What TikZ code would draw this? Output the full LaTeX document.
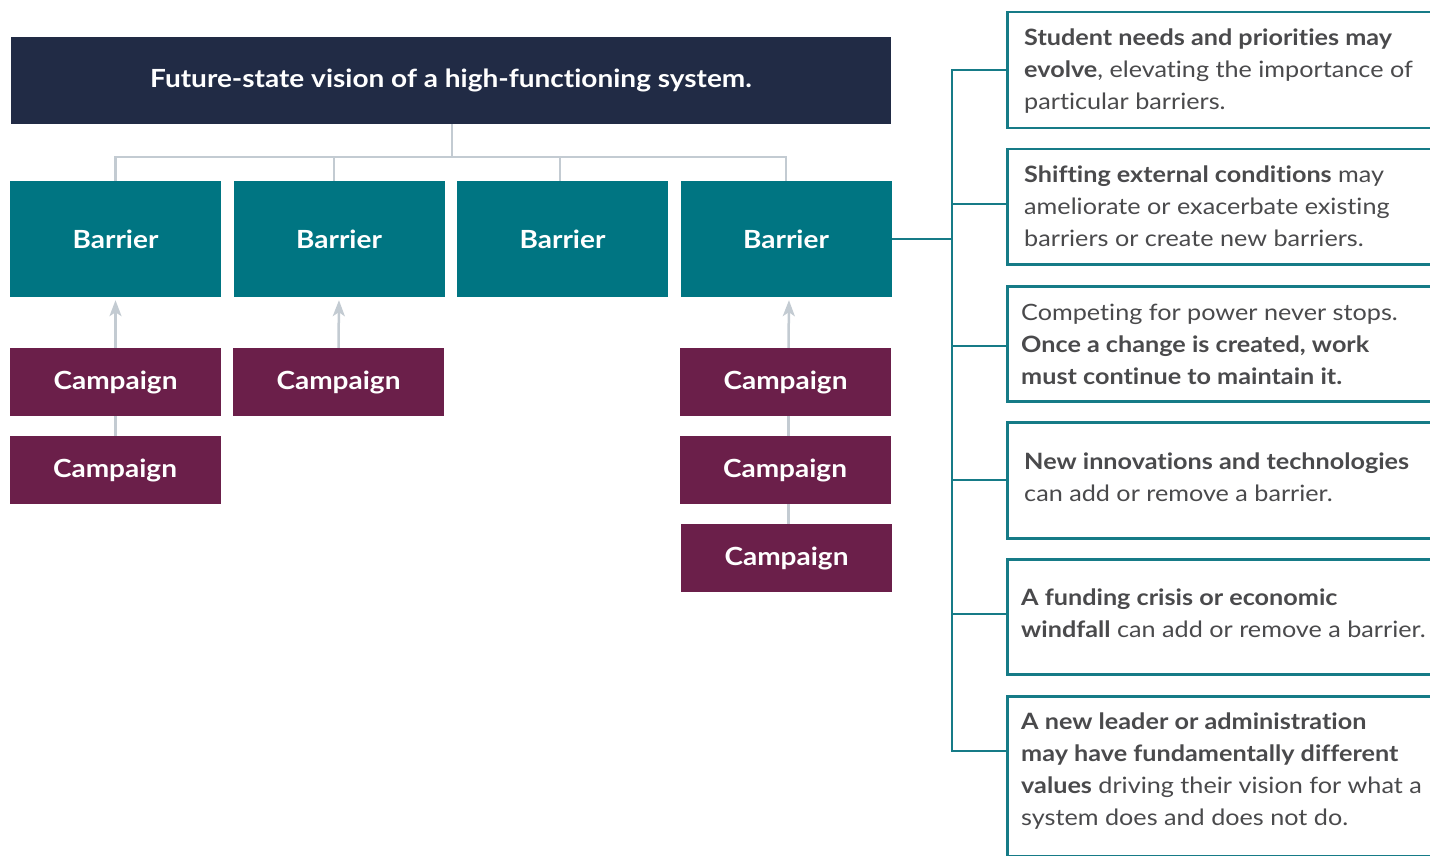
\documentclass[tikz,border=0pt]{standalone}
\usepackage{fontspec}
\setmainfont{Lato}[FakeStretch=1.12, Ligatures=NoCommon]
\usetikzlibrary{arrows.meta,calc}
\definecolor{navy}{HTML}{212B45}
\definecolor{barrierteal}{HTML}{007582}
\definecolor{plum}{HTML}{6B1F4A}
\definecolor{linkgray}{HTML}{C3CBD2}
\definecolor{edgeteal}{HTML}{167B87}
\definecolor{bodytext}{HTML}{4A4A4C}
\tikzset{
  titlebox/.style={fill=navy, text=white, inner sep=0pt, minimum width=880pt, minimum height=87pt,
    font=\bfseries\fontsize{25}{30}\selectfont},
  barrierbox/.style={fill=barrierteal, text=white, inner sep=0pt, minimum width=211pt, minimum height=116pt,
    font=\bfseries\fontsize{25}{30}\selectfont},
  campaignbox/.style={fill=plum, text=white, inner sep=0pt, minimum width=211pt, minimum height=68pt,
    font=\bfseries\fontsize{25}{30}\selectfont},
  notebox/.style={draw=edgeteal, line width=2.5pt, fill=white, inner sep=0pt, minimum width=470pt,
    anchor=north west},
  notetext/.style={text=bodytext, inner sep=0pt, anchor=west, align=left,
    font=\fontsize{22.5}{32}\selectfont},
  treeline/.style={draw=linkgray, line width=2.5pt},
  uparrow/.style={treeline, -{Stealth[length=16pt,width=12pt,inset=4pt]}, shorten >=3pt},
  sideline/.style={draw=edgeteal, line width=2pt},
}
\begin{document}
\begin{tikzpicture}[x=1pt,y=-1pt]
\path[use as bounding box] (0,0) rectangle (1430,856);
\clip (0,0) rectangle (1430,856);

% vision and barriers
\node[titlebox] (title) at (451,80.5) {Future-state vision of a high-functioning system.};
\node[barrierbox] (b1) at (115.5,239) {Barrier};
\node[barrierbox] (b2) at (339,239) {Barrier};
\node[barrierbox] (b3) at (562.5,239) {Barrier};
\node[barrierbox] (b4) at (786,239) {Barrier};

% campaigns
\node[campaignbox] (c11) at (115.5,382) {Campaign};
\node[campaignbox] (c12) at (115,470) {Campaign};
\node[campaignbox] (c21) at (338.5,382) {Campaign};
\node[campaignbox] (c41) at (785.5,382) {Campaign};
\node[campaignbox] (c42) at (785,470) {Campaign};
\node[campaignbox] (c43) at (786.5,558) {Campaign};

% tree from the vision to the barriers
\coordinate (hub) at ($(title.south)+(1,33)$);
\draw[treeline] (title.south -| hub) -- (hub);
\draw[treeline] (b1.north) |- (hub) -| (b4.north);
\draw[treeline] ($(b2.north)+(-5,0)$) -- ($(b2.north |- hub)+(-5,0)$);
\draw[treeline] ($(b3.north)+(-2.5,0)$) -- ($(b3.north |- hub)+(-2.5,0)$);

% campaigns pushing on barriers
\draw[uparrow] (c11.north) -- (b1.south);
\draw[uparrow] (c21.north) -- (b2.south);
\draw[uparrow] ($(c41.north)+(3,0)$) -- ($(b4.south)+(3,0)$);
\draw[treeline] (c12.north -| c11.south) -- (c11.south);
\draw[treeline] ($(c42.north -| c41.south)+(3,0)$) -- ($(c41.south)+(3,0)$);
\draw[treeline] ($(c43.north -| c41.south)+(3,0)$) -- ($(c42.south -| c41.south)+(3,0)$);

% forces acting on the barriers
\node[notebox, minimum height=116pt] (r1) at (1006,11) {};
\node[notebox, minimum height=115pt] (r2) at (1006,148) {};
\node[notebox, minimum height=115pt] (r3) at (1006,285) {};
\node[notebox, minimum height=116pt] (r4) at (1006,421) {};
\node[notebox, minimum height=115pt] (r5) at (1006,558) {};
\node[notebox, minimum height=160pt] (r6) at (1006,695) {};

\node[notetext] (t1) at ($(r1.west)+(18,1)$) {\textbf{Student needs and priorities may}\\\textbf{evolve}, elevating the importance of\\particular barriers.};
\node[notetext] (t2) at ($(r2.west)+(18,-1)$) {\textbf{Shifting external conditions} may\\ameliorate or exacerbate existing\\barriers or create new barriers.};
\node[notetext] (t3) at ($(r3.west)+(15,1)$) {Competing for power never stops.\\\textbf{Once a change is created, work}\\\textbf{must continue to maintain it.}};
\node[notetext] (t4) at ($(r4.west)+(18,-3)$) {\textbf{New innovations and technologies}\\can add or remove a barrier.};
\node[notetext] (t5) at ($(r5.west)+(15,-4)$) {\textbf{A funding crisis or economic}\\\textbf{windfall} can add or remove a barrier.};
\node[notetext] (t6) at ($(r6.west)+(15,-5)$) {\textbf{A new leader or administration}\\\textbf{may have fundamentally different}\\\textbf{values} driving their vision for what a\\system does and does not do.};

% spine joining the barriers to the notes
\coordinate (spine) at (952,0);
\draw[sideline] (b4.east) -- (b4.east -| spine);
\coordinate (k1) at ($(r1.north west)+(0,59)$);
\coordinate (k2) at ($(r2.north west)+(0,56)$);
\coordinate (k3) at ($(r3.north west)+(0,61)$);
\coordinate (k4) at ($(r4.north west)+(0,59)$);
\coordinate (k5) at ($(r5.north west)+(0,56)$);
\coordinate (k6) at ($(r6.north west)+(0,56)$);
\draw[sideline] (k1) -- (k1 -| spine) -- (k6 -| spine) -- (k6);
\foreach \k in {k2,k3,k4,k5} \draw[sideline] (\k) -- (\k -| spine);
\end{tikzpicture}
\end{document}
